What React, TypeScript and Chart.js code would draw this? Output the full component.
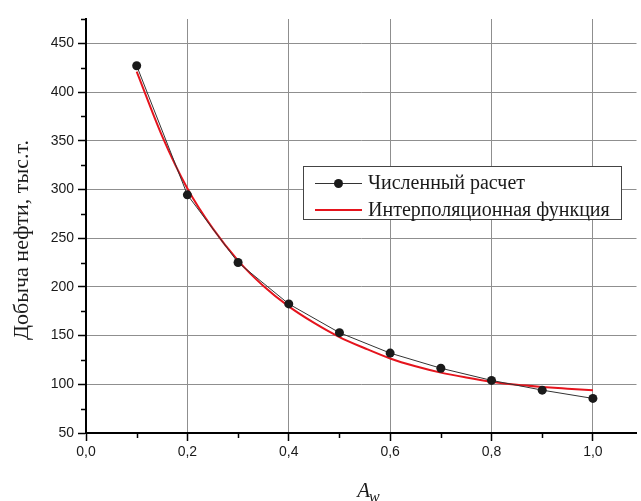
import { useEffect, useRef } from 'react';
import { Chart, registerables } from 'chart.js';

Chart.register(...registerables);

const xValues = [0.1, 0.2, 0.3, 0.4, 0.5, 0.6, 0.7, 0.8, 0.9, 1.0];
const calcValues = [427, 294.5, 225, 182.5, 153, 132, 116.5, 104, 94, 85.5];
const fitX = [0.1, 0.15, 0.2, 0.25, 0.3, 0.35, 0.4, 0.45, 0.5, 0.55, 0.6, 0.65, 0.7, 0.75, 0.8, 0.85, 0.9, 0.95, 1.0];
const fitY = [421, 355, 301, 260, 227, 201, 180, 163, 148.5, 137, 126.5, 118.5, 112, 107, 102.7, 99.5, 97.3, 95.5, 93.8];
const xTicks = [0, 0.2, 0.4, 0.6, 0.8, 1.0];
const xMinorTicks = [0.1, 0.3, 0.5, 0.7, 0.9];
const yTicks = [50, 100, 150, 200, 250, 300, 350, 400, 450];
const yMinorTicks = [75, 125, 175, 225, 275, 325, 375, 425, 475];
const seriesLabels = ['Численный расчет', 'Интерполяционная функция'];
const yTitle = 'Добыча нефти, тыс.т.';
const xTitleMain = 'A';
const xTitleSub = 'w';

const SERIF = '"Liberation Serif", "Times New Roman", serif';
const SANS = '"Liberation Sans", Arial, sans-serif';
const BLACK_COLOR = '#333333';
const RED_COLOR = '#e5141d';

const decorPlugin = {
  id: 'decor',
  afterDraw(chart: any) {
    const ctx = chart.ctx as CanvasRenderingContext2D;
    const xs = chart.scales.x;
    const ys = chart.scales.y;
    const area = chart.chartArea;
    ctx.save();
    // minor ticks
    ctx.strokeStyle = '#000';
    ctx.lineWidth = 1.5;
    ctx.beginPath();
    xMinorTicks.forEach((v) => {
      const px = Math.round(xs.getPixelForValue(v)) + 0.5;
      ctx.moveTo(px, area.bottom);
      ctx.lineTo(px, area.bottom + 5);
    });
    yMinorTicks.forEach((v) => {
      const py = Math.round(ys.getPixelForValue(v)) + 0.5;
      ctx.moveTo(area.left, py);
      ctx.lineTo(area.left - 5, py);
    });
    ctx.stroke();

    // y title
    ctx.fillStyle = '#1a1a1a';
    ctx.font = `22px ${SERIF}`;
    ctx.save();
    ctx.translate(22, 240);
    ctx.rotate(-Math.PI / 2);
    ctx.textAlign = 'center';
    ctx.textBaseline = 'middle';
    ctx.fillText(yTitle, 0, 0);
    ctx.restore();

    // x title
    ctx.textBaseline = 'alphabetic';
    ctx.font = `italic 21px ${SERIF}`;
    ctx.textAlign = 'right';
    ctx.fillText(xTitleMain, 370, 497);
    ctx.font = `italic 16px ${SERIF}`;
    ctx.textAlign = 'left';
    ctx.fillText(xTitleSub, 369, 502);

    // legend
    const lx = 303, ly = 166, lw = 318, lh = 53;
    ctx.fillStyle = '#ffffff';
    ctx.fillRect(lx, ly, lw, lh);
    ctx.strokeStyle = '#444';
    ctx.lineWidth = 1;
    ctx.strokeRect(lx + 0.5, ly + 0.5, lw, lh);
    const rows = [183, 210];
    ctx.strokeStyle = BLACK_COLOR;
    ctx.lineWidth = 1;
    ctx.beginPath();
    ctx.moveTo(315, rows[0] + 0.5);
    ctx.lineTo(362, rows[0] + 0.5);
    ctx.stroke();
    ctx.fillStyle = '#1a1a1a';
    ctx.beginPath();
    ctx.arc(338.5, rows[0] + 0.5, 4.5, 0, Math.PI * 2);
    ctx.fill();
    ctx.strokeStyle = RED_COLOR;
    ctx.lineWidth = 2;
    ctx.beginPath();
    ctx.moveTo(315, rows[1]);
    ctx.lineTo(362, rows[1]);
    ctx.stroke();
    ctx.fillStyle = '#1a1a1a';
    ctx.font = `20px ${SERIF}`;
    ctx.textAlign = 'left';
    ctx.textBaseline = 'middle';
    ctx.fillText(seriesLabels[0], 368, rows[0] + 1);
    ctx.fillText(seriesLabels[1], 368, rows[1] + 1);
    ctx.restore();
  },
};

export default function App() {
  const ref = useRef<HTMLCanvasElement | null>(null);
  useEffect(() => {
    document.body.style.margin = '0';
    if (!ref.current) return;
    const chart = new Chart(ref.current, {
      type: 'line',
      data: {
        datasets: [
          {
            label: seriesLabels[0],
            data: xValues.map((x, i) => ({ x, y: calcValues[i] })),
            borderColor: BLACK_COLOR,
            borderWidth: 1,
            pointRadius: 4.5,
            pointBackgroundColor: '#1a1a1a',
            pointBorderColor: '#1a1a1a',
            pointBorderWidth: 0,
            tension: 0,
            order: 0,
          },
          {
            label: seriesLabels[1],
            data: fitX.map((x, i) => ({ x, y: fitY[i] })),
            borderColor: RED_COLOR,
            borderWidth: 2,
            pointRadius: 0,
            cubicInterpolationMode: 'monotone',
            order: 1,
          },
        ],
      },
      options: {
        responsive: false,
        animation: false,
        events: [],
        layout: { padding: { top: 19, right: 1, left: 0, bottom: 0 } },
        plugins: {
          legend: { display: false },
          tooltip: { enabled: false },
          title: { display: false },
        },
        scales: {
          x: {
            type: 'linear',
            min: 0,
            max: 1.086,
            afterFit: (s: any) => {
              s.height = 68;
            },
            afterBuildTicks: (s: any) => {
              s.ticks = xTicks.map((v) => ({ value: v }));
            },
            ticks: {
              font: { family: SANS, size: 14 },
              color: '#1a1a1a',
              padding: 3,
              maxRotation: 0,
              autoSkip: false,
              callback: (v: any) => Number(v).toFixed(1).replace('.', ','),
            },
            grid: {
              color: '#8f8f8f',
              lineWidth: 1,
              tickColor: '#000',
              tickLength: 8,
              tickWidth: 1.5,
            },
            border: { display: true, color: '#000', width: 2 },
          },
          y: {
            type: 'linear',
            min: 50,
            max: 475,
            afterFit: (s: any) => {
              s.width = 86;
            },
            afterBuildTicks: (s: any) => {
              s.ticks = yTicks.map((v) => ({ value: v }));
            },
            ticks: {
              font: { family: SANS, size: 14 },
              color: '#1a1a1a',
              padding: 4,
              autoSkip: false,
              callback: (v: any) => String(v),
            },
            grid: {
              color: '#8f8f8f',
              lineWidth: 1,
              tickColor: '#000',
              tickLength: 8,
              tickWidth: 1.5,
            },
            border: { display: true, color: '#000', width: 2 },
          },
        },
      },
      plugins: [decorPlugin],
    } as any);
    return () => chart.destroy();
  }, []);
  return (
    <div style={{ width: 641, height: 501, background: '#fff' }}>
      <canvas ref={ref} width={641} height={501} style={{ display: 'block' }} />
    </div>
  );
}
